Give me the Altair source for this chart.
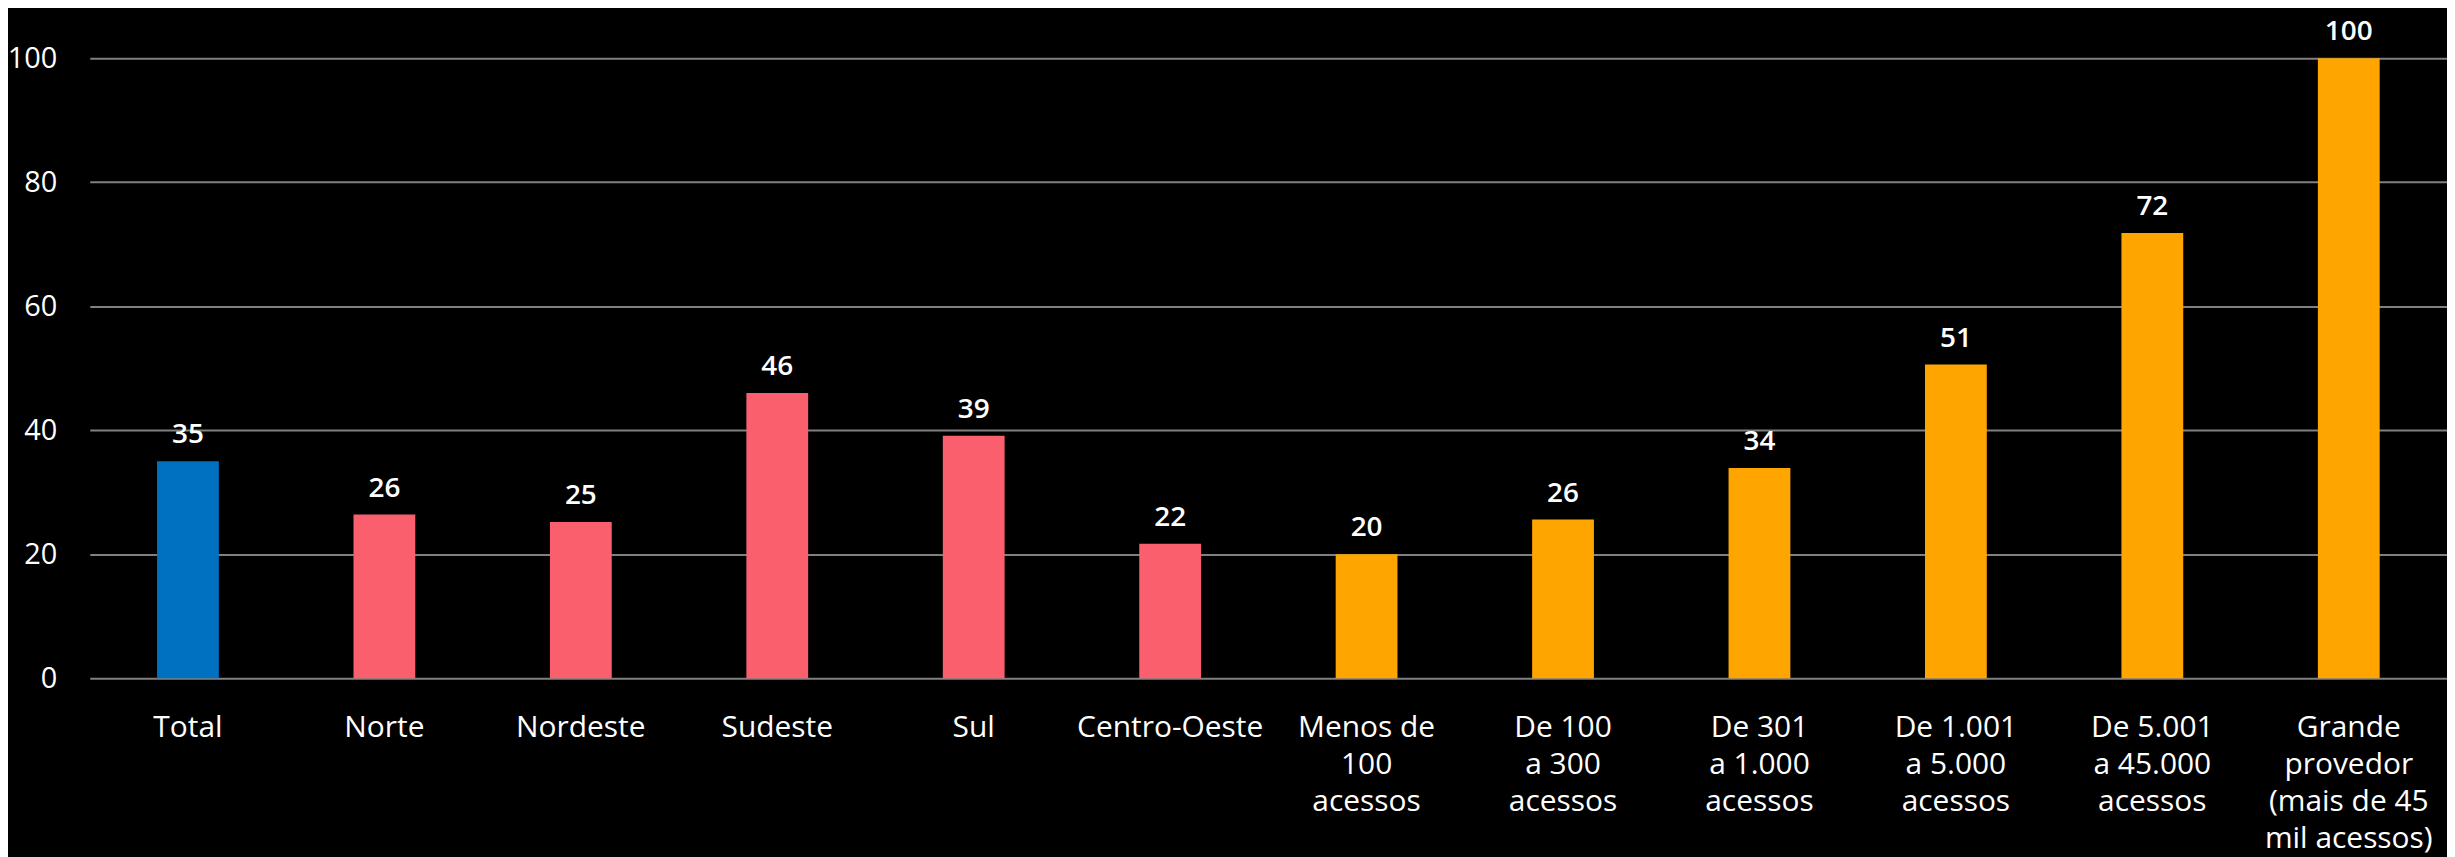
import altair as alt
import pandas as pd

categorias = [
    "Total", "Norte", "Nordeste", "Sudeste", "Sul", "Centro-Oeste",
    "Menos de\n100\nacessos", "De 100\na 300\nacessos", "De 301\na 1.000\nacessos",
    "De 1.001\na 5.000\nacessos", "De 5.001\na 45.000\nacessos",
    "Grande\nprovedor\n(mais de 45\nmil acessos)",
]
valores = [35.0, 26.4, 25.2, 46.0, 39.1, 21.7, 20.0, 25.6, 33.9, 50.6, 71.8, 100.0]
grupos = ["Total"] + ["Região"] * 5 + ["Porte"] * 6
rotulos = ["35", "26", "25", "46", "39", "22", "20", "26", "34", "51", "72", "100"]

grupo_dominio = ["Total", "Região", "Porte"]
grupo_cores = ["#0070C0", "#FA5F6E", "#FFA500"]

df = pd.DataFrame({
    "categoria": categorias,
    "valor": valores,
    "grupo": grupos,
    "rotulo": rotulos,
})

FONT = "Open Sans"

x_enc = alt.X(
    "categoria:N",
    sort=None,
    scale=alt.Scale(paddingInner=0, paddingOuter=0),
    axis=alt.Axis(
        title=None,
        labelAngle=0,
        labelExpr="split(datum.label, '\\n')",
        labelColor="white",
        labelFont=FONT,
        labelFontSize=30,
        labelLineHeight=37,
        labelPadding=35,
        labelBaseline="top",
        domain=False,
        ticks=False,
        labelLimit=400,
    ),
)

base = alt.Chart(df).encode(x=x_enc)

bars = base.mark_bar(size=62).encode(
    y=alt.Y(
        "valor:Q",
        scale=alt.Scale(domain=[0, 100], nice=False),
        axis=alt.Axis(
            title=None,
            values=[0, 20, 40, 60, 80, 100],
            labelColor="white",
            labelFont=FONT,
            labelFontSize=29,
            labelPadding=33,
            domain=False,
            ticks=False,
            grid=True,
            gridColor="#808080",
            gridWidth=2,
        ),
    ),
    color=alt.Color(
        "grupo:N",
        scale=alt.Scale(domain=grupo_dominio, range=grupo_cores),
        legend=None,
    ),
)

labels = base.mark_text(
    dy=-18,
    baseline="alphabetic",
    color="white",
    font=FONT,
    fontSize=28,
    fontWeight=600,
).encode(
    y=alt.Y("valor:Q"),
    text="rotulo:N",
)

chart = (
    alt.layer(bars, labels)
    .properties(
        width=2365,
        height=622,
        background="black",
        autosize=alt.AutoSizeParams(type="none"),
        padding={"left": 82, "top": 49, "right": 0, "bottom": 178},
    )
    .configure_view(stroke=None)
)

chart.save("out.html", embed_options={"renderer": "svg", "actions": False})
